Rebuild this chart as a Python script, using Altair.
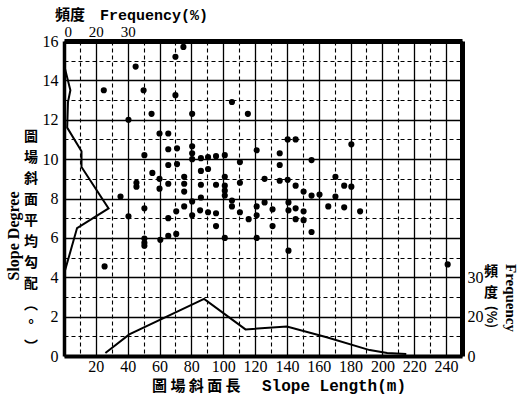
import altair as alt
import pandas as pd

# ---- scatter: slope length (m) vs slope degree ----
slope_length = [75, 70, 45, 25, 50, 70, 55, 80.5, 40.5,
                60, 65.5, 65.5, 71, 80.5, 80.5, 80.5, 50.5,
                86, 90.5, 95.5, 101, 65.5, 71, 55.5, 60, 45.5,
                45.5, 60, 65.5, 75.5, 75.5, 75.5, 35.5, 86, 90.5,
                86, 95.5, 101, 101, 101, 101, 86, 110.5, 110.5,
                105.5, 115.5, 140.5, 145.5, 180.5, 121, 135.5, 135.5,
                155.5, 126, 135.5, 140.5, 145.5, 150.5, 155.5, 160.5,
                170.5, 176, 180.5, 170.5, 166, 176, 186, 121, 126,
                131, 141, 141, 145.5, 150.5, 121, 116, 131, 145.5,
                150.5, 155.5, 121, 141, 50.5, 40.5, 65.5, 70.5, 75.5,
                80.5, 80.5, 85.5, 90.5, 95.5, 95.5, 101, 105.5, 105.5,
                110.5, 50.5, 50.5, 50.5, 60.5, 65.5, 70.5, 25.5, 241]
slope_degree = [15.7, 15.2, 14.7, 13.5, 13.5, 13.25, 12.3, 12.3, 12.0,
                11.3, 11.3, 10.5, 10.55, 10.65, 10.3, 10.0, 10.2,
                10.05, 10.1, 10.15, 10.2, 9.7, 9.75, 9.3, 9.0, 8.8,
                8.6, 8.5, 8.75, 9.1, 8.75, 8.35, 8.1, 9.4, 9.5,
                8.7, 8.7, 9.1, 8.65, 8.4, 8.15, 8.05, 9.85, 8.8,
                12.9, 12.3, 11.0, 11.0, 10.75, 10.45, 10.3, 9.7,
                9.95, 9.0, 8.9, 8.95, 8.65, 8.35, 8.15, 8.2,
                9.1, 8.65, 8.6, 8.1, 7.6, 7.55, 7.35, 7.6, 7.8,
                7.45, 7.8, 7.4, 7.5, 7.35, 7.15, 6.95, 6.6, 6.95,
                6.9, 6.3, 6.0, 5.35, 7.5, 7.1, 7.0, 7.35, 7.6,
                7.85, 7.15, 7.4, 7.3, 7.25, 6.6, 6.0, 7.9, 7.6,
                7.3, 5.97, 5.75, 5.6, 5.9, 6.1, 6.2, 4.55, 4.65]

# ---- frequency polygon of slope degree (read on the top frequency axis) ----
deg_freq_pos = [0, 4, 2.5, 2, 11, 11, 28, 8.2, 0.5]
deg_freq_deg = [14.8, 13.5, 12.9, 11.6, 10.4, 9.6, 7.5, 6.5, 4.3]

# ---- frequency polygon of slope length (read on the right frequency axis) ----
len_freq_len = [26, 41, 88, 114, 140, 165, 192, 203, 215]
len_freq_pos = [0.15, 1.1, 2.9, 1.35, 1.5, 0.95, 0.3, 0.15, 0.1]

# ---- ticks and labels ----
x_major = list(range(20, 241, 20))
x_minor = list(range(10, 251, 20))
y_major = list(range(0, 17, 2))
y_minor = list(range(1, 16, 2))
top_ticks = [0, 20, 40]
top_labels = ["0", "20", "30"]
right_ticks = [0, 2, 4]
right_labels = ["0", "20", "30"]

title_top_cjk = "頻度"
title_top_lat = "Frequency(%)"
title_bottom_cjk = "圖 場 斜 面 長"
title_bottom_lat = "Slope Length(m)"
title_left_lat = "Slope Degree"
title_left_cjk = ["圖", "場", "斜", "面", "平", "均", "勾", "配", "︵", "°", "︶"]
title_right_cjk = ["頻", "度"]
title_right_unit = "(%)"
title_right_lat = "Frequency"

scatter_df = pd.DataFrame({"len": slope_length, "deg": slope_degree})
deg_df = pd.DataFrame({"f": deg_freq_pos, "deg": deg_freq_deg, "i": range(len(deg_freq_pos))})
len_df = pd.DataFrame({"len": len_freq_len, "f": len_freq_pos, "i": range(len(len_freq_len))})

XS = alt.Scale(domain=[0, 250], nice=False, zero=False)
YS = alt.Scale(domain=[0, 16], nice=False, zero=False)

NUMFONT = "Liberation Serif"
CJK = "Noto Sans CJK TC"


def expr_map(ticks, labels):
    return "[" + ",".join("'%s'" % l for l in labels) + "][indexof([" + ",".join(str(t) for t in ticks) + "], datum.value)]"


# minor dashed grid
minor = alt.Chart(scatter_df).mark_point(opacity=0).encode(
    x=alt.X("len:Q", scale=XS, axis=alt.Axis(orient="bottom", values=x_minor, grid=True,
                                             gridDash=[4, 3], gridColor="black", gridWidth=1.1,
                                             labels=False, ticks=False, domain=False, title=None)),
    y=alt.Y("deg:Q", scale=YS, axis=alt.Axis(orient="left", values=y_minor, grid=True,
                                             gridDash=[4, 3], gridColor="black", gridWidth=1.1,
                                             labels=False, ticks=False, domain=False, title=None)),
)

# major solid grid + scatter
points = alt.Chart(scatter_df).mark_circle(size=38, color="black", opacity=1).encode(
    x=alt.X("len:Q", scale=XS, axis=alt.Axis(orient="bottom", values=x_major, grid=True,
                                             gridColor="black", gridWidth=1.3, ticks=False,
                                             domainColor="black", domainWidth=4,
                                             labelFont=NUMFONT, labelFontSize=16,
                                             labelColor="black", labelPadding=2, title=None)),
    y=alt.Y("deg:Q", scale=YS, axis=alt.Axis(orient="left", values=y_major, grid=True,
                                             gridColor="black", gridWidth=1.3, ticks=False,
                                             domainColor="black", domainWidth=3.5,
                                             labelFont=NUMFONT, labelFontSize=16,
                                             labelColor="black", labelPadding=6, title=None)),
)

deg_line = alt.Chart(deg_df).mark_line(color="black", strokeWidth=2).encode(
    x=alt.X("f:Q", scale=XS, axis=alt.Axis(orient="top", values=top_ticks,
                                           labelExpr=expr_map(top_ticks, top_labels),
                                           grid=False, ticks=False, domainColor="black",
                                           domainWidth=5, labelFont=NUMFONT, labelFontSize=15,
                                           labelColor="black", labelPadding=2, title=None)),
    y=alt.Y("deg:Q", scale=YS, axis=None),
    order="i:Q",
)

len_line = alt.Chart(len_df).mark_line(color="black", strokeWidth=2).encode(
    x=alt.X("len:Q", scale=XS, axis=None),
    y=alt.Y("f:Q", scale=YS, axis=alt.Axis(orient="right", values=right_ticks,
                                           labelExpr=expr_map(right_ticks, right_labels),
                                           grid=False, ticks=False, domainColor="black",
                                           domainWidth=5, labelFont=NUMFONT, labelFontSize=16,
                                           labelColor="black", labelPadding=5, title=None)),
    order="i:Q",
)


def label(text, x, y, font, size, weight="bold", angle=0, align="left", line_height=None):
    kw = dict(text=text, font=font, fontSize=size, fontWeight=weight, color="black",
              align=align, baseline="middle")
    if angle:
        kw["angle"] = angle
    if line_height:
        kw["lineHeight"] = line_height
    return alt.Chart(alt.Data(values=[{}])).mark_text(**kw).encode(
        x=alt.value(x), y=alt.value(y))


texts = [
    label(title_top_cjk, -9, -26, CJK, 15),
    label(title_top_lat, 36, -26, "Liberation Mono", 15),
    label(title_bottom_cjk, 88, 345, CJK, 15),
    label(title_bottom_lat, 198, 345, "Liberation Mono", 16),
    label(title_left_lat, -50, 195, NUMFONT, 16, angle=270, align="center"),
    label(title_left_cjk, -33, 96, CJK, 14, align="center", line_height=21),
    label(title_right_cjk, 427, 231, CJK, 14, align="center", line_height=21),
    label(title_right_unit, 427, 276, CJK, 13, angle=90, align="center"),
    label(title_right_lat, 447, 257, NUMFONT, 15, angle=90, align="center"),
]

chart = alt.layer(minor, points, deg_line, len_line, *texts).resolve_axis(
    x="independent", y="independent"
).properties(
    width=398, height=315,
    autosize=alt.AutoSizeParams(type="none"),
    padding={"left": 64, "top": 41, "right": 56, "bottom": 42},
).configure_view(stroke=None).configure(background="white")

chart.save("out.html", embed_options={"renderer": "svg", "actions": False})
